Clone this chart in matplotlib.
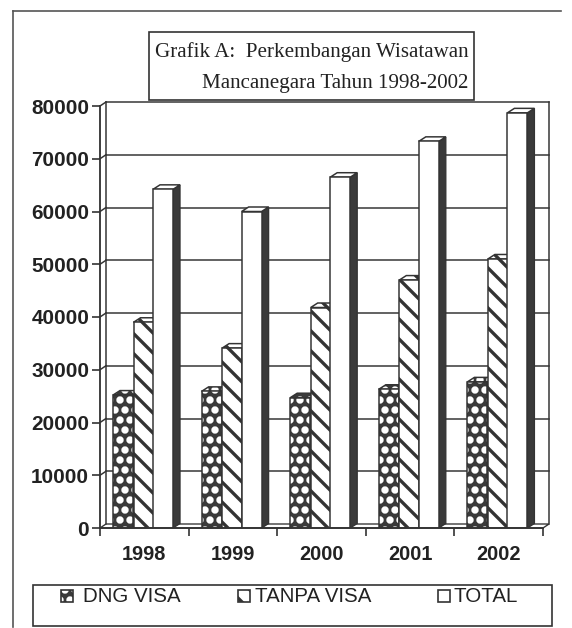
import matplotlib
matplotlib.use("Agg")
import matplotlib.pyplot as plt
import matplotlib.hatch as mhatch
from matplotlib.patches import Rectangle, Polygon
from matplotlib.lines import Line2D

# ---------------- data ----------------
years = ["1998", "1999", "2000", "2001", "2002"]
dng_visa = [25200, 25900, 24700, 26300, 27700]
tanpa_visa = [39000, 34100, 41800, 47000, 51000]
total = [64200, 60000, 66500, 73300, 78700]
series_names = ["DNG VISA", "TANPA VISA", "TOTAL"]
y_ticks = [0, 10000, 20000, 30000, 40000, 50000, 60000, 70000, 80000]
title_line1 = "Grafik A:  Perkembangan Wisatawan"
title_line2 = "Mancanegara Tahun 1998-2002"

# bigger filled dots for the '.' hatch (style only)
mhatch.SmallFilledCircles.size = 0.2

# ---------------- figure ----------------
W, H, DPI = 572, 628, 120
plt.rcParams["hatch.linewidth"] = 2.0
fig = plt.figure(figsize=(W / DPI, H / DPI), dpi=DPI)
fig.patch.set_facecolor("white")

def fx(px):
    return px / W

def fy(py):
    return 1 - py / H

DARK = "#333333"
SIDE = "#3a3a3a"

ax_l, ax_r, ax_b, ax_t = 100, 543, 528, 106
ax = fig.add_axes([fx(ax_l), fy(ax_b), fx(ax_r) - fx(ax_l), fy(ax_t) - fy(ax_b)])
ax.set_xlim(0, len(years))
ax.set_ylim(0, 80000)
ax.patch.set_alpha(0)

px_x = (ax_r - ax_l) / len(years)      # pixels per category
px_y = (ax_b - ax_t) / 80000.0          # pixels per unit value

# 3D offsets
wdx, wdy = 6 / px_x, 4 / px_y           # back wall
bdx, bdy = 7 / px_x, 4.5 / px_y         # bar depth

n = len(years)
# back wall & floor
ax.add_patch(Polygon([(0, 0), (n, 0), (n + wdx, wdy), (wdx, wdy)], closed=True,
                     facecolor="white", edgecolor=DARK, lw=0.8, clip_on=False, zorder=1))
for yv in y_ticks[1:]:
    ax.add_line(Line2D([wdx, n + wdx], [yv + wdy, yv + wdy], color=DARK, lw=0.9,
                       clip_on=False, zorder=1))
    ax.add_line(Line2D([0, wdx], [yv, yv + wdy], color=DARK, lw=0.9, clip_on=False, zorder=1))
ax.add_line(Line2D([wdx, wdx], [wdy, 80000 + wdy], color=DARK, lw=0.9, clip_on=False, zorder=1))
ax.add_line(Line2D([n + wdx, n + wdx], [wdy, 80000 + wdy], color=DARK, lw=0.9,
                   clip_on=False, zorder=1))

bar_w = 20 / px_x
offsets = [13 / px_x, 33.5 / px_x, 53 / px_x]
series = [dng_visa, tanpa_visa, total]

styles = [
    dict(face=SIDE, hatch="..", hcolor="white", side=SIDE),
    dict(face="white", hatch="\\\\", hcolor=DARK, side=SIDE),
    dict(face="white", hatch=None, hcolor=DARK, side=SIDE),
]

z = 2
for i in range(n):
    for s, (vals, st) in enumerate(zip(series, styles)):
        x0 = i + offsets[s]
        h = vals[i]
        side = Polygon([(x0 + bar_w, 0), (x0 + bar_w + bdx, bdy),
                        (x0 + bar_w + bdx, h + bdy), (x0 + bar_w, h)], closed=True,
                       facecolor=st["side"], edgecolor=DARK, lw=0.8, zorder=z)
        ax.add_patch(side)
        top_xy = [(x0, h), (x0 + bdx, h + bdy), (x0 + bar_w + bdx, h + bdy), (x0 + bar_w, h)]
        ax.add_patch(Polygon(top_xy, closed=True, facecolor=st["face"],
                             edgecolor=st["hcolor"], lw=0, hatch=st["hatch"], zorder=z + 0.1))
        ax.add_patch(Polygon(top_xy, closed=True, facecolor="none",
                             edgecolor=DARK, lw=0.9, zorder=z + 0.2))
        ax.bar([x0], [h], width=bar_w, align="edge", color=st["face"],
               edgecolor=st["hcolor"], hatch=st["hatch"], lw=0, zorder=z + 0.3)
        ax.bar([x0], [h], width=bar_w, align="edge", color="none",
               edgecolor=DARK, lw=0.9, zorder=z + 0.4)
        z += 1

# axes styling
for sp in ["top", "right"]:
    ax.spines[sp].set_visible(False)
for sp in ["left", "bottom"]:
    ax.spines[sp].set_color(DARK)
    ax.spines[sp].set_linewidth(1.1)
    ax.spines[sp].set_zorder(100)

ax.set_yticks(y_ticks)
ax.set_yticklabels([str(v) for v in y_ticks], fontsize=12.4, fontweight="bold",
                   family="Liberation Sans", color="#222222")
ax.tick_params(axis="y", length=5, width=1, color=DARK, pad=1.5)

ax.set_xticks(range(n + 1))
ax.set_xticklabels([""] * (n + 1))
ax.set_xticks([i + 0.5 for i in range(n)], minor=True)
ax.set_xticklabels(years, minor=True, fontsize=12, fontweight="bold",
                   family="Liberation Sans", color="#222222")
ax.tick_params(axis="x", which="major", length=5, width=1, color=DARK)
ax.tick_params(axis="x", which="minor", length=0, pad=10)

# ---------------- title box ----------------
fig.add_artist(Rectangle((fx(149), fy(100)), fx(474) - fx(149), fy(32) - fy(100),
                         transform=fig.transFigure, facecolor="white", edgecolor=DARK,
                         lw=1.0, zorder=50))
fig.text(fx(155), fy(57), title_line1, family="Liberation Serif", fontsize=12.6,
         ha="left", va="baseline", color="#222222", zorder=51)
fig.text(fx(468), fy(88), title_line2, family="Liberation Serif", fontsize=12.6,
         ha="right", va="baseline", color="#222222", zorder=51)

# ---------------- legend box ----------------
fig.add_artist(Rectangle((fx(33), fy(626)), fx(552) - fx(33), fy(585) - fy(626),
                         transform=fig.transFigure, facecolor="white", edgecolor=DARK,
                         lw=1.0, zorder=50))
marker_x = [61, 238, 438]
text_x = [83, 255, 453]
for s, st in enumerate(styles):
    fig.add_artist(Rectangle((fx(marker_x[s]), fy(602)), fx(12), fy(590) - fy(602),
                             transform=fig.transFigure, facecolor=st["face"],
                             edgecolor=st["hcolor"], hatch=st["hatch"], lw=0, zorder=51))
    fig.add_artist(Rectangle((fx(marker_x[s]), fy(602)), fx(12), fy(590) - fy(602),
                             transform=fig.transFigure, facecolor="none",
                             edgecolor=DARK, lw=1.0, zorder=52))
    fig.text(fx(text_x[s]), fy(602), series_names[s], family="Liberation Sans",
             fontsize=12.3, ha="left", va="baseline", color="#222222", zorder=52)

# outer frame (left & top edges)
fig.add_artist(Line2D([fx(13), fx(13)], [fy(11), fy(627)], transform=fig.transFigure,
                      color="#555555", lw=1.0))
fig.add_artist(Line2D([fx(13), fx(561)], [fy(11), fy(11)], transform=fig.transFigure,
                      color="#555555", lw=1.0))

fig.savefig("out.png", dpi=DPI, facecolor="white")
